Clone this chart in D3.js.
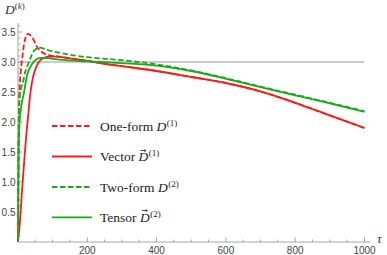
<!DOCTYPE html>
<html>
<head>
<meta charset="utf-8">
<script src="https://cdn.jsdelivr.net/npm/d3@7"></script>
<style>
  body { margin: 0; background: #fff; }
  svg { display: block; }
</style>
</head>
<body>
<div id="chart"></div>
<script>
// values: [tau, D]
const oneForm = [[0,0],[1,0.9],[2,1.7],[3,2.3],[5,2.6],[8,2.85],[12,3.05],[17,3.28],[22,3.41],[28,3.47],[35,3.45],
  [44,3.38],[54,3.26],[68,3.17],[92,3.11],[120,3.09],[150,3.06],[200,3.02],[250,2.97],[300,2.93],[400,2.85],
  [500,2.75],[600,2.65],[700,2.51],[800,2.32],[900,2.11],[1000,1.9]]
const vector = [[0,0],[5,0.3],[10,0.72],[15,1.12],[20,1.5],[25,1.85],[30,2.15],[35,2.45],[40,2.65],[50,2.88],
  [60,3.0],[75,3.07],[92,3.09],[110,3.09],[150,3.06],[200,3.02],[250,2.97],[300,2.93],[400,2.85],
  [500,2.75],[600,2.65],[700,2.51],[800,2.32],[900,2.11],[1000,1.9]]
const twoForm = [[0,0],[1,1.2],[2,1.9],[3,2.2],[6,2.48],[10,2.58],[15,2.68],[20,2.82],[25,2.9],[35,3.05],
  [45,3.18],[63,3.24],[80,3.21],[107,3.17],[150,3.12],[200,3.08],[300,3.03],[400,2.96],
  [500,2.86],[600,2.73],[700,2.59],[800,2.455],[900,2.32],[1000,2.18]]
const tensor = [[0,0],[1,1.0],[2,1.6],[4,1.95],[8,2.2],[12,2.35],[17,2.48],[21,2.62],[25,2.75],[30,2.85],
  [36,2.92],[45,3.0],[55,3.05],[68,3.07],[90,3.06],[120,3.04],[200,3.01],[300,2.98],[400,2.94],
  [500,2.85],[600,2.72],[700,2.58],[800,2.445],[900,2.31],[1000,2.17]]

const xTicks = [200, 400, 600, 800, 1000]
const yTicks = [0.5, 1.0, 1.5, 2.0, 2.5, 3.0, 3.5]
const legendNames = ["One-form", "Vector", "Two-form", "Tensor"]
const legendSup = ["(1)", "(1)", "(2)", "(2)"]
const legendArrow = [false, true, false, true]

const series = [
  {data: oneForm, color: "#ff1a1a", dash: "5.5,2.5"},
  {data: vector, color: "#ff1a1a", dash: null},
  {data: twoForm, color: "#1aaa1a", dash: "5.5,2.5"},
  {data: tensor, color: "#1aaa1a", dash: null}
]

const width = 387, height = 255

const svg = d3.select("#chart").append("svg")
    .attr("width", width)
    .attr("height", height)

const x = d3.scaleLinear().domain([0, 1000]).range([18, 364.5])
const y = d3.scaleLinear().domain([0, 3.5]).range([242, 32])

const axisColor = "#a6a6a6"

// axes lines
svg.append("line")
    .attr("x1", x(0)).attr("x2", 370)
    .attr("y1", y(0)).attr("y2", y(0))
    .attr("stroke", axisColor)
svg.append("line")
    .attr("x1", x(0)).attr("x2", x(0))
    .attr("y1", y(0)).attr("y2", 23)
    .attr("stroke", axisColor)

// minor + major ticks (pointing inward)
const xMinor = d3.range(50, 1001, 50)
svg.selectAll(".xtick")
  .data(xMinor)
  .enter().append("line")
    .attr("x1", d => x(d)).attr("x2", d => x(d))
    .attr("y1", y(0))
    .attr("y2", d => y(0) - (d % 200 == 0 ? 4.5 : 2.5))
    .attr("stroke", axisColor)

const yMinor = d3.range(1, 37).map(d => d / 10)
svg.selectAll(".ytick")
  .data(yMinor)
  .enter().append("line")
    .attr("y1", d => y(d)).attr("y2", d => y(d))
    .attr("x1", x(0))
    .attr("x2", d => x(0) + (Math.abs(d * 2 - Math.round(d * 2)) < 1e-6 ? 4.5 : 2.5))
    .attr("stroke", axisColor)

svg.selectAll(".xlab")
  .data(xTicks)
  .enter().append("text")
    .attr("x", d => x(d))
    .attr("y", 254)
    .attr("text-anchor", "middle")
    .attr("font-family", "Liberation Sans, Arial, sans-serif")
    .attr("font-size", 10)
    .attr("fill", "#444")
    .text(d => d)

svg.selectAll(".ylab")
  .data(yTicks)
  .enter().append("text")
    .attr("x", 15.5)
    .attr("y", d => y(d))
    .attr("dy", "0.35em")
    .attr("text-anchor", "end")
    .attr("font-family", "Liberation Sans, Arial, sans-serif")
    .attr("font-size", 10)
    .attr("fill", "#444")
    .text(d => d.toFixed(1))

// reference line at D = 3
svg.append("line")
    .attr("x1", x(0)).attr("x2", x(1000))
    .attr("y1", y(3)).attr("y2", y(3))
    .attr("stroke", "#999")
    .attr("stroke-width", 1)

const line = d3.line()
    .x(d => x(d[0]))
    .y(d => y(d[1]))
    .curve(d3.curveMonotoneX)

series.forEach(s => {
  svg.append("path")
      .datum(s.data)
      .attr("fill", "none")
      .attr("stroke", s.color)
      .attr("stroke-width", 1.8)
      .attr("stroke-dasharray", s.dash)
      .attr("d", line)
})

// axis labels
const dl = svg.append("text")
    .attr("x", 5)
    .attr("y", 14)
    .attr("font-family", "Liberation Serif, Times New Roman, serif")
    .attr("font-size", 13.5)
    .attr("fill", "#333")
dl.append("tspan").attr("font-style", "italic").text("D")
dl.append("tspan").attr("font-size", 9).attr("dy", -5).text("(")
dl.append("tspan").attr("font-size", 9).attr("font-style", "italic").text("k")
dl.append("tspan").attr("font-size", 9).text(")")

svg.append("text")
    .attr("x", 377)
    .attr("y", 243)
    .attr("font-family", "Liberation Serif, Times New Roman, serif")
    .attr("font-style", "italic")
    .attr("font-size", 13)
    .attr("fill", "#333")
    .text("τ")

// legend
const legY = [126, 156.5, 187, 217.3]
series.forEach((s, i) => {
  svg.append("line")
      .attr("x1", 52).attr("x2", 92)
      .attr("y1", legY[i]).attr("y2", legY[i])
      .attr("stroke", s.color)
      .attr("stroke-width", 1.8)
      .attr("stroke-dasharray", s.dash)

  const t = svg.append("text")
      .attr("x", 100)
      .attr("y", legY[i] + 4.5)
      .attr("font-family", "Liberation Serif, Times New Roman, serif")
      .attr("font-size", 13.5)
      .attr("fill", "#222")
  t.append("tspan").text(legendNames[i] + " ")
  const dSpan = t.append("tspan").attr("font-style", "italic").text("D")
  const dw = dSpan.node().getComputedTextLength()
  let back = 0
  if (legendArrow[i]) {
    const a = t.append("tspan")
        .attr("font-family", "DejaVu Sans, sans-serif")
        .attr("font-size", 7.5)
        .attr("dx", -dw + 1.5)
        .attr("dy", -8.5)
        .text("→")
    const aw = a.node().getComputedTextLength()
    back = dw - 1.5 - aw
  }
  t.append("tspan")
      .attr("font-size", 9)
      .attr("dx", back + 0.5)
      .attr("dy", legendArrow[i] ? 3.5 : -5)
      .text(legendSup[i])
})
</script>
</body>
</html>
